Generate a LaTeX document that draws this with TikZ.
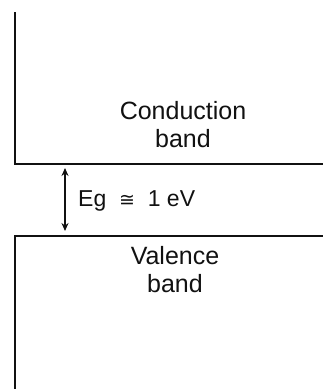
\documentclass[tikz,border=0pt]{standalone}
\usepackage{fontspec}
\setmainfont{Liberation Sans}
\newfontfamily\symfont{DejaVu Sans}
\usetikzlibrary{arrows.meta, positioning}
\definecolor{bandline}{HTML}{111111}
\tikzset{
  bandedge/.style={draw=bandline, line width=2.7pt},
  bandlabel/.style={align=center, font=\fontsize{25}{28}\selectfont, text=bandline},
  gaparrow/.style={draw=bandline, line width=1.8pt, {Stealth[length=8pt,width=7pt]}-{Stealth[length=8pt,width=7pt]}, shorten <=4pt, shorten >=5pt}
}

\begin{document}
\begin{tikzpicture}[x=1pt, y=-1pt]
  \useasboundingbox (0,0) rectangle (323,389);
  % Banda de conduccion
  \coordinate (cbtop) at (15,12);
  \coordinate (cbcorner) at (15,164);
  \coordinate (cbend) at (323,164);
  \draw[bandedge] (cbtop) -- (cbcorner) -- (cbend);
  % Banda de valencia
  \coordinate (vbcorner) at (15,236);
  \coordinate (vbend) at (323,236);
  \coordinate (vbbottom) at (15,389);
  \draw[bandedge] (vbend) -- (vbcorner) -- (vbbottom);
  % Etiquetas
  \node[bandlabel] (cblabel) at (183,125) {Conduction\\band};
  \node[bandlabel] (vblabel) at (175,270) {Valence\\band};
  % Brecha de energia
  \coordinate (gaptop) at (65,164);
  \coordinate (gapbottom) at (65,236);
  \draw[gaparrow] (gaptop) -- (gapbottom);
  \node[font=\fontsize{23}{26}\selectfont, text=bandline, anchor=west, inner sep=0pt] (gaplabel) at (78,201) {Eg\ \ {\symfont\fontsize{19}{22}\selectfont ≅}\ \ 1 eV};
\end{tikzpicture}
\end{document}
